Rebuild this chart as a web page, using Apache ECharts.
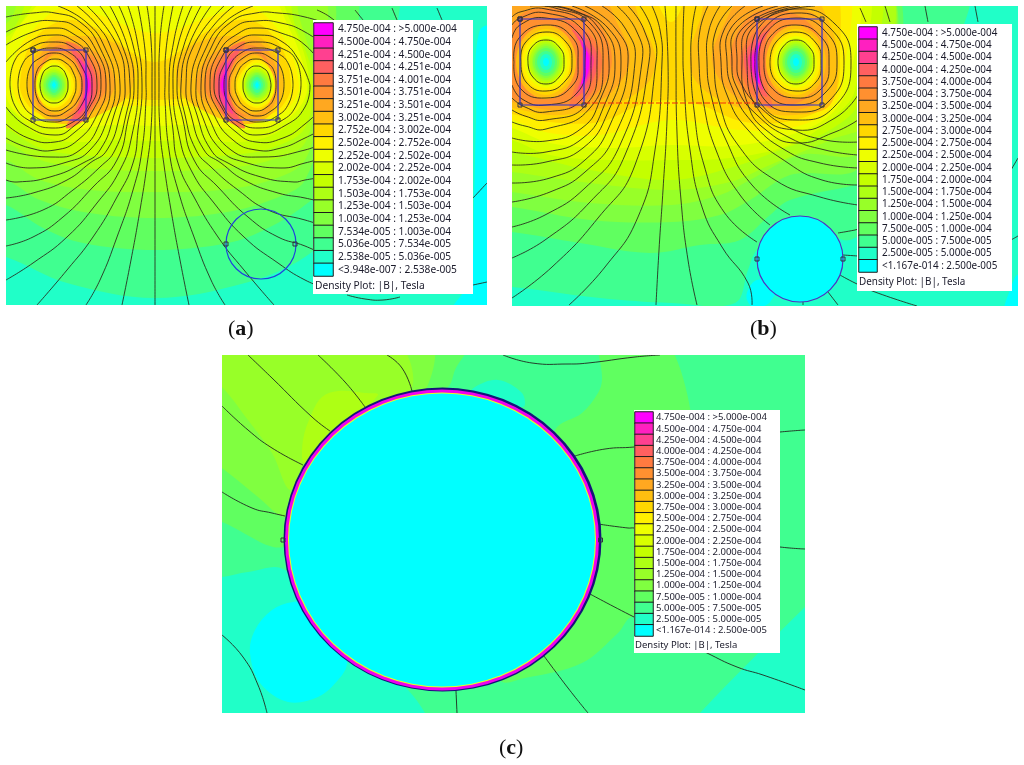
<!DOCTYPE html>
<html>
<head>
<meta charset="utf-8">
<title>Density plots</title>
<script src="https://cdn.jsdelivr.net/npm/echarts@6/dist/echarts.min.js"></script>
<style>
html, body { margin: 0; padding: 0; background: #fff; }
#chart { width: 1024px; height: 765px; }
</style>
</head>
<body>
<div id="chart"></div>
<script>
// colour per density level, lowest (cyan) first
var levelColors = ['#00ffff', '#20ffc8', '#40ff90', '#60ff60', '#80ff40', '#98ff28', '#aeff14', '#c4ff00', '#d8ff00', '#eeff00',
    '#fff000', '#ffd700', '#ffbf10', '#ffa820', '#ff9030', '#ff7a40', '#ff6060', '#ff4090', '#ff20c0', '#ff00ff'];

var legendLabelsA = ['4.750e-004 : >5.000e-004', '4.500e-004 : 4.750e-004', '4.251e-004 : 4.500e-004', '4.001e-004 : 4.251e-004',
    '3.751e-004 : 4.001e-004', '3.501e-004 : 3.751e-004', '3.251e-004 : 3.501e-004', '3.002e-004 : 3.251e-004',
    '2.752e-004 : 3.002e-004', '2.502e-004 : 2.752e-004', '2.252e-004 : 2.502e-004', '2.002e-004 : 2.252e-004',
    '1.753e-004 : 2.002e-004', '1.503e-004 : 1.753e-004', '1.253e-004 : 1.503e-004', '1.003e-004 : 1.253e-004',
    '7.534e-005 : 1.003e-004', '5.036e-005 : 7.534e-005', '2.538e-005 : 5.036e-005', '<3.948e-007 : 2.538e-005'];
var legendLabelsB = ['4.750e-004 : >5.000e-004', '4.500e-004 : 4.750e-004', '4.250e-004 : 4.500e-004', '4.000e-004 : 4.250e-004',
    '3.750e-004 : 4.000e-004', '3.500e-004 : 3.750e-004', '3.250e-004 : 3.500e-004', '3.000e-004 : 3.250e-004',
    '2.750e-004 : 3.000e-004', '2.500e-004 : 2.750e-004', '2.250e-004 : 2.500e-004', '2.000e-004 : 2.250e-004',
    '1.750e-004 : 2.000e-004', '1.500e-004 : 1.750e-004', '1.250e-004 : 1.500e-004', '1.000e-004 : 1.250e-004',
    '7.500e-005 : 1.000e-004', '5.000e-005 : 7.500e-005', '2.500e-005 : 5.000e-005', '<1.167e-014 : 2.500e-005'];
var legendLevels = [19, 18, 17, 16, 15, 14, 13, 12, 11, 10, 9, 8, 7, 6, 5, 4, 3, 2, 1, 0];

// density regions: [level, x,y, x,y, ...], painted in this order
var bandsA = [
    [1, -20,-20, 500,-20, 500,320, -20,320],
    [0, 480,30, 476,120, 474,200, 470,280, 450,315, 505,315, 505,30],
    [2, -20,254, 6,257, 67,283, 155,298, 245,283, 305,257, 340,220, 380,120, 400,6, 400,-20, -20,-20],
    [3, -20,203, 6,205, 43,228, 83,243, 155,250, 228,243, 268,228, 305,205, 335,175, 350,80, 345,-20, -20,-20],
    [4, -20,178, 6,180, 40,200, 90,213, 155,218, 221,213, 271,200, 305,180, 325,100, 320,-20, -20,-20],
    [5, -20,158, 6,160, 40,180, 90,190, 155,192, 221,190, 271,180, 305,160, 318,100, 312,-20, -20,-20],
    [6, -20,140, 6,143, 40,160, 85,168, 155,171, 226,168, 271,160, 305,143, 315,80, 300,20, 285,-20, 30,-20, 10,20, -20,40],
    [7, -20,118, 6,128, 40,148, 80,155, 155,158, 231,155, 271,148, 305,128, 312,75, 295,25, 278,-20, 45,-20, 12,30, -20,50],
    [8, -20,100, 8,108, 35,133, 70,142, 110,140, 155,141, 201,140, 241,142, 276,133, 303,108, 308,70, 290,20, 265,-20, 60,-20, 15,30, -20,60],
    [9, 4,85, 12,108, 35,125, 70,130, 110,125, 155,126, 201,125, 241,130, 276,125, 299,108, 307,85, 290,30, 255,-20, 75,-20, 20,25, 4,60],
    [10, 12,85, 20,105, 40,118, 70,120, 105,108, 155,106, 206,108, 241,120, 271,118, 291,105, 299,85, 285,40, 250,6, 215,15, 155,33, 100,15, 65,6, 28,35, 14,60],
    [11, 20,85, 28,105, 45,116, 70,115, 100,100, 155,100, 211,100, 241,115, 266,116, 283,105, 291,85, 280,45, 250,20, 210,30, 155,62, 100,30, 65,20, 32,42],
    [12, 27,85, 33,105, 48,120, 72,124, 105,112, 128,95, 135,70, 125,50, 100,38, 72,36, 50,38, 33,60],
    [12, 284,85, 278,105, 263,120, 239,124, 206,112, 183,95, 176,70, 186,50, 211,38, 239,36, 261,38, 278,60],
    [13, 32,85, 37,105, 50,117, 72,119, 100,107, 115,85, 103,58, 72,42, 52,42, 37,62],
    [13, 279,85, 274,105, 261,117, 239,119, 211,107, 196,85, 208,58, 239,42, 259,42, 274,62],
    [14, 36,85, 41,103, 52,113, 72,116, 96,104, 107,85, 97,60, 72,46, 54,47, 41,65],
    [14, 275,85, 270,103, 259,113, 239,116, 215,104, 204,85, 214,60, 239,46, 257,47, 270,65],
    [13, 38,85, 44,63, 58,52, 75,62, 83,85, 75,108, 58,117, 44,107],
    [12, 37,85, 43,65, 56,55, 72,64, 80,85, 72,106, 56,114, 43,105],
    [11, 37,85, 42,67, 55,58, 69,67, 77,85, 69,103, 55,111, 42,103],
    [10, 36,85, 41,69, 54,60, 67,69, 74,85, 67,101, 54,108, 41,101],
    [9, 37,85, 41,71, 54,63, 66,71, 71,85, 66,99, 54,106, 42,99],
    [8, 38,85, 42,73, 54,66, 65,73, 69,85, 65,97, 54,103, 43,97],
    [7, 40,85, 44,74, 54,68, 64,74, 67,85, 64,96, 54,101, 44,96],
    [6, 41,85, 45,75, 54,70, 63,75, 66,85, 63,95, 54,100, 45,95],
    [5, 43,85, 46,76, 54,72, 62,76, 65,85, 62,94, 54,98, 46,94],
    [4, 44,85, 47,78, 54,73, 61,78, 64,85, 61,92, 54,97, 47,92],
    [3, 46,85, 48,79, 54,75, 60,79, 62,85, 60,91, 54,95, 48,91],
    [2, 48,85, 50,80, 54,77, 58,80, 60,85, 58,90, 54,93, 50,90],
    [1, 50,85, 51,82, 54,80, 57,82, 58,85, 57,88, 54,90, 51,88],
    [0, 52,85, 53,83, 54,82, 55,83, 56,85, 55,87, 54,88, 53,87],
    [13, 273,85, 267,63, 253,52, 236,62, 228,85, 236,108, 253,117, 267,107],
    [12, 274,85, 268,65, 255,55, 239,64, 231,85, 239,106, 255,114, 268,105],
    [11, 274,85, 269,67, 256,58, 242,67, 234,85, 242,103, 256,111, 269,103],
    [10, 275,85, 270,69, 257,60, 244,69, 237,85, 244,101, 257,108, 270,101],
    [9, 274,85, 270,71, 257,63, 245,71, 240,85, 245,99, 257,106, 269,99],
    [8, 273,85, 269,73, 257,66, 246,73, 242,85, 246,97, 257,103, 268,97],
    [7, 271,85, 267,74, 257,68, 247,74, 244,85, 247,96, 257,101, 267,96],
    [6, 270,85, 266,75, 257,70, 248,75, 245,85, 248,95, 257,100, 266,95],
    [5, 268,85, 265,76, 257,72, 249,76, 246,85, 249,94, 257,98, 265,94],
    [4, 267,85, 264,78, 257,73, 250,78, 247,85, 250,92, 257,97, 264,92],
    [3, 265,85, 263,79, 257,75, 251,79, 249,85, 251,91, 257,95, 263,91],
    [2, 263,85, 261,80, 257,77, 253,80, 251,85, 253,90, 257,93, 261,90],
    [1, 261,85, 260,82, 257,80, 254,82, 253,85, 254,88, 257,90, 260,88],
    [0, 259,85, 258,83, 257,82, 256,83, 255,85, 256,87, 257,88, 258,87],
    [15, 66,42, 86,52, 100,85, 86,118, 66,128, 78,105, 81,85, 78,65],
    [16, 72,50, 90,64, 96,85, 90,108, 72,122, 81,100, 83,85, 81,70],
    [17, 78,58, 91,72, 93,85, 91,100, 78,114, 84,97, 85,85, 84,73],
    [18, 82,64, 91,85, 82,106, 86,85],
    [19, 84,70, 89.5,85, 84,100, 86.5,85],
    [15, 245,42, 225,52, 211,85, 225,118, 245,128, 233,105, 230,85, 233,65],
    [16, 239,50, 221,64, 215,85, 221,108, 239,122, 230,100, 228,85, 230,70],
    [17, 233,58, 220,72, 218,85, 220,100, 233,114, 227,97, 226,85, 227,73],
    [18, 229,64, 220,85, 229,106, 225,85],
    [19, 227,70, 221.5,85, 227,100, 224.5,85]
];
var bandsB = [
    [1, 490,-20, 1030,-20, 1030,320, 490,320],
    [0, 757,280, 748,290, 747,300, 755,308, 768,304, 775,295, 790,280],
    [0, 1010,290, 1018,275, 1028,310, 1005,312],
    [2, 490,287, 512,287, 600,298, 671,303, 735,303, 748,270, 757,250, 800,216, 843,240, 860,235, 875,220, 930,100, 960,-20, 490,-20],
    [3, 490,232, 512,232, 580,243, 650,253, 700,245, 740,240, 770,215, 790,200, 855,185, 870,180, 885,-20, 490,-20],
    [4, 490,207, 512,207, 590,220, 671,222, 720,215, 750,200, 790,175, 860,165, 880,-20, 490,-20],
    [5, 490,190, 512,192, 590,203, 671,205, 720,195, 750,180, 800,155, 860,150, 880,-20, 490,-20],
    [6, 490,170, 512,172, 590,183, 671,190, 730,182, 770,165, 830,140, 870,120, 880,-20, 490,-20],
    [7, 490,150, 512,152, 590,170, 671,180, 730,168, 780,150, 830,130, 860,100, 870,-20, 490,-20],
    [8, 490,138, 512,140, 550,155, 610,160, 671,160, 730,158, 790,145, 830,120, 855,90, 858,-20, 490,-20],
    [9, 490,125, 512,128, 550,143, 610,148, 671,145, 730,146, 790,135, 830,115, 850,80, 848,-20, 490,-20],
    [10, 490,118, 512,120, 550,133, 600,135, 671,120, 740,130, 790,128, 830,110, 844,75, 838,-20, 490,-20],
    [11, 490,112, 512,114, 550,122, 600,122, 640,105, 671,100, 700,105, 745,122, 795,120, 832,100, 840,60, 828,-20, 700,-20, 671,22, 640,-20, 490,-20],
    [12, 490,105, 512,108, 550,115, 585,112, 625,100, 650,80, 655,55, 640,20, 620,-20, 490,-20],
    [12, 690,55, 695,80, 720,100, 757,112, 795,115, 830,105, 838,60, 828,20, 800,-20, 715,-20, 700,20],
    [13, 490,100, 512,102, 550,110, 585,106, 612,92, 630,60, 618,25, 595,-10, 490,-10],
    [13, 712,60, 730,92, 757,106, 795,110, 822,98, 830,60, 820,20, 795,6, 745,-5, 724,25],
    [14, 505,90, 525,104, 555,105, 585,101, 603,85, 612,60, 603,30, 585,12, 550,8, 525,12, 510,30, 503,60],
    [14, 730,60, 739,85, 757,101, 790,105, 815,90, 824,60, 815,30, 790,12, 757,12, 739,30],
    [12, 516,62, 525,36, 546,25, 567,36, 576,62, 567,88, 546,99, 525,88],
    [11, 519,62, 527,39, 546,29, 565,39, 573,62, 565,85, 546,95, 527,85],
    [10, 522,62, 529,41, 546,33, 563,41, 570,62, 563,83, 546,91, 529,83],
    [9, 525,62, 531,44, 546,36, 561,44, 567,62, 561,80, 546,88, 531,80],
    [8, 527,62, 533,46, 546,38, 559,46, 565,62, 559,78, 546,86, 533,78],
    [7, 529,62, 534,47, 546,40, 558,47, 563,62, 558,77, 546,84, 534,77],
    [6, 530,62, 535,48, 546,42, 557,48, 562,62, 557,76, 546,82, 535,76],
    [5, 532,62, 536,50, 546,44, 556,50, 560,62, 556,74, 546,80, 536,74],
    [4, 533,62, 537,51, 546,46, 555,51, 559,62, 555,73, 546,78, 537,73],
    [3, 535,62, 538,52, 546,48, 554,52, 557,62, 554,72, 546,76, 538,72],
    [2, 537,62, 540,54, 546,51, 552,54, 555,62, 552,70, 546,73, 540,70],
    [1, 540,62, 542,56, 546,54, 550,56, 552,62, 550,68, 546,70, 542,68],
    [0, 543,62, 544,59, 546,58, 548,59, 549,62, 548,65, 546,66, 544,65],
    [12, 766,62, 775,36, 796,25, 817,36, 826,62, 817,88, 796,99, 775,88],
    [11, 769,62, 777,39, 796,29, 815,39, 823,62, 815,85, 796,95, 777,85],
    [10, 772,62, 779,41, 796,33, 813,41, 820,62, 813,83, 796,91, 779,83],
    [9, 775,62, 781,44, 796,36, 811,44, 817,62, 811,80, 796,88, 781,80],
    [8, 777,62, 783,46, 796,38, 809,46, 815,62, 809,78, 796,86, 783,78],
    [7, 779,62, 784,47, 796,40, 808,47, 813,62, 808,77, 796,84, 784,77],
    [6, 780,62, 785,48, 796,42, 807,48, 812,62, 807,76, 796,82, 785,76],
    [5, 782,62, 786,50, 796,44, 806,50, 810,62, 806,74, 796,80, 786,74],
    [4, 783,62, 787,51, 796,46, 805,51, 809,62, 805,73, 796,78, 787,73],
    [3, 785,62, 788,52, 796,48, 804,52, 807,62, 804,72, 796,76, 788,72],
    [2, 787,62, 790,54, 796,51, 802,54, 805,62, 802,70, 796,73, 790,70],
    [1, 790,62, 792,56, 796,54, 800,56, 802,62, 800,68, 796,70, 792,68],
    [0, 793,62, 794,59, 796,58, 798,59, 799,62, 798,65, 796,66, 794,65],
    [15, 565,20, 590,35, 602,60, 592,92, 570,108, 575,85, 577,60, 575,35],
    [16, 572,30, 590,42, 598,60, 590,85, 575,97, 580,80, 582,60, 580,42],
    [17, 577,36, 588,48, 594,60, 588,80, 579,90, 583,75, 585,60, 583,47],
    [18, 580,40, 587,50, 591,60, 587,78, 581,85, 584,72, 585,60, 584,50],
    [19, 581,44, 587,52, 589,62, 587,75, 582,84, 584,72, 585,60, 584,50],
    [15, 777,20, 752,35, 740,60, 750,92, 772,108, 767,85, 765,60, 767,35],
    [16, 770,30, 752,42, 744,60, 752,85, 767,97, 762,80, 760,60, 762,42],
    [17, 765,36, 754,48, 748,60, 754,80, 763,90, 759,75, 757,60, 759,47],
    [18, 762,40, 755,50, 751,60, 755,78, 761,85, 758,72, 757,60, 758,50],
    [19, 761,44, 755,52, 753,62, 755,75, 760,84, 758,72, 757,60, 758,50]
];
var bandsC = [
    [2, 200,340, 820,340, 820,730, 200,730],
    [3, 602,340, 667,340, 700,500, 690,640, 633,617, 618,633, 582,663, 525,678, 500,680, 480,600, 555,430, 582,413, 598,393, 602,380],
    [3, 200,340, 468,340, 455,370, 448,387, 430,390, 300,500, 283,547, 222,522, 200,515],
    [1, 200,577, 222,577, 248,572, 285,570, 408,690, 425,713, 432,730, 200,730],
    [1, 815,600, 805,607, 700,713, 690,730, 820,730],
    [0, 293,602, 272,610, 255,630, 250,653, 260,683, 288,702, 318,697, 338,680, 347,663, 340,600],
    [1, 475,387, 498,380, 522,393, 523,407, 470,395],
    [4, 200,340, 428,340, 427,387, 400,400, 300,500, 285,517, 258,497, 222,468, 200,455],
    [5, 200,340, 392,340, 412,387, 365,407, 328,430, 303,465, 290,490, 272,453, 248,420, 222,387, 200,370],
    [6, 305,463, 303,440, 312,413, 322,397, 338,391, 365,393, 378,395, 340,430]
];

// flux lines: x,y, x,y, ...
var fluxA = [
    [155,305, 155,150, 155,85, 155,6],
    [122,305, 131,260, 140,210, 147,165, 151,130, 152,85, 151,40, 147,6],
    [86,305, 100,280, 117,237, 133,190, 142,150, 146,100, 146,85, 145,50, 138,6],
    [37,305, 67,270, 93,237, 117,197, 133,163, 138,130, 142,85, 137,40, 128,6],
    [6,280, 33,263, 67,237, 97,203, 120,170, 132,135, 138,85, 133,45, 119,6],
    [6,246, 33,237, 63,217, 93,187, 117,160, 128,120, 134,85, 127,45, 110,6],
    [6,220, 43,210, 73,190, 100,167, 115,150, 126,115, 130,85, 122,45, 100,6],
    [6,198, 33,193, 67,180, 90,163, 107,150, 120,115, 125,85, 117,45, 87,6],
    [6,180, 17,182, 50,177, 83,163, 100,150, 114,115, 120,85, 111,48, 97,25, 77,6],
    [6,163, 30,168, 67,162, 90,150, 108,118, 115,85, 105,48, 86,22, 58,6],
    [6,150, 50,157, 80,150, 102,118, 110,85, 100,48, 80,22, 55,13, 33,13, 6,17],
    [6,138, 30,148, 55,150, 78,140, 97,115, 106,85, 96,50, 76,27, 55,21, 30,23, 6,32],
    [6,124, 28,138, 55,142, 75,132, 92,112, 101,85, 92,52, 72,33, 54,28, 30,33, 6,45],
    [6,107, 25,125, 55,135, 74,126, 89,108, 97,85, 88,55, 72,40, 54,35, 30,41, 6,62],
    [10,85, 15,60, 30,48, 52,42, 74,48, 87,65, 92,85, 87,108, 73,122, 52,128, 30,121, 15,106, 10,85],
    [18,85, 22,65, 34,53, 52,48, 70,53, 82,67, 87,85, 82,104, 69,117, 52,122, 34,116, 22,103, 18,85],
    [27,85, 30,68, 40,58, 54,53, 68,58, 78,70, 82,85, 78,100, 67,111, 54,116, 40,111, 30,100, 27,85],
    [35,85, 37,71, 44,63, 55,59, 66,63, 73,72, 76,85, 73,98, 66,107, 55,111, 44,107, 37,98, 35,85],
    [40,85, 43,73, 48,68, 54,66, 61,68, 66,75, 68,85, 66,95, 61,101, 54,103, 47,101, 42,95, 40,85],
    [189,305, 180,260, 171,210, 164,165, 160,130, 159,85, 160,40, 164,6],
    [225,305, 211,280, 194,237, 178,190, 169,150, 165,100, 165,85, 166,50, 173,6],
    [274,305, 244,270, 218,237, 194,197, 178,163, 173,130, 169,85, 174,40, 183,6],
    [330,290, 305,280, 278,263, 244,237, 214,203, 191,170, 179,135, 173,85, 178,45, 192,6],
    [330,258, 305,246, 278,237, 248,217, 218,187, 194,160, 183,120, 177,85, 184,45, 201,6],
    [330,228, 305,220, 268,210, 238,190, 211,167, 196,150, 185,115, 181,85, 189,45, 211,6],
    [330,204, 305,198, 278,193, 244,180, 221,163, 204,150, 191,115, 186,85, 194,45, 224,6],
    [330,176, 305,180, 294,182, 261,177, 228,163, 211,150, 197,115, 191,85, 200,48, 214,25, 234,6],
    [330,156, 305,163, 281,168, 244,162, 221,150, 203,118, 196,85, 206,48, 225,22, 253,6],
    [330,140, 305,150, 261,157, 231,150, 209,118, 201,85, 211,48, 231,22, 256,13, 278,13, 305,17, 330,25],
    [330,125, 305,138, 281,148, 256,150, 233,140, 214,115, 205,85, 215,50, 235,27, 256,21, 281,23, 305,32, 330,50],
    [325,105, 305,124, 283,138, 256,142, 236,132, 219,112, 210,85, 219,52, 239,33, 257,28, 281,33, 305,45, 325,70],
    [310,85, 305,107, 286,125, 256,135, 237,126, 222,108, 214,85, 223,55, 239,40, 257,35, 281,41, 300,62, 310,85],
    [301,85, 296,60, 281,48, 259,42, 237,48, 224,65, 219,85, 224,108, 238,122, 259,128, 281,121, 296,106, 301,85],
    [293,85, 289,65, 277,53, 259,48, 241,53, 229,67, 224,85, 229,104, 242,117, 259,122, 277,116, 289,103, 293,85],
    [284,85, 281,68, 271,58, 257,53, 243,58, 233,70, 229,85, 233,100, 244,111, 257,116, 271,111, 281,100, 284,85],
    [276,85, 274,71, 267,63, 256,59, 245,63, 238,72, 235,85, 238,98, 245,107, 256,111, 267,107, 274,98, 276,85],
    [271,85, 268,73, 263,68, 257,66, 250,68, 245,75, 243,85, 245,95, 250,101, 257,103, 264,101, 269,95, 271,85],
    [317,10, 330,17, 345,30],
    [355,10, 363,20],
    [392,8, 397,20],
    [437,8, 442,20],
    [473,198, 487,183],
    [473,285, 487,282],
    [347,295, 365,299, 383,300, 400,297]
];
var fluxB = [
    [528,62, 531,48, 546,40, 560,48, 564,62, 560,76, 546,84, 532,76, 528,62],
    [521,62, 525,43, 546,32, 566,42, 572,62, 566,80, 546,91, 526,82, 521,62],
    [514,62, 519,38, 546,25, 572,37, 578,62, 572,86, 546,98, 520,88, 514,62],
    [512,85, 522,99, 546,105, 577,93, 585,62, 578,33, 546,18, 520,25, 512,38],
    [512,98, 525,107, 546,112, 582,99, 591,62, 583,30, 546,13, 520,18, 512,25],
    [512,110, 525,116, 546,120, 586,105, 597,62, 587,26, 546,9, 520,12, 512,17],
    [512,122, 525,126, 546,129, 590,108, 603,62, 591,24, 555,8, 530,6],
    [512,138, 546,141, 582,128, 600,100, 609,62, 597,26, 570,10, 545,6],
    [512,152, 546,152, 583,138, 604,106, 615,62, 603,28, 578,12, 555,6],
    [512,165, 546,162, 583,148, 608,112, 621,62, 608,28, 572,6],
    [512,183, 550,178, 585,160, 610,125, 628,62, 615,28, 585,6],
    [512,202, 550,192, 585,172, 615,135, 635,62, 625,28, 602,6],
    [512,227, 545,215, 585,188, 620,145, 642,62, 636,30, 617,6],
    [512,258, 545,240, 590,202, 625,155, 649,62, 644,30, 628,6],
    [512,298, 552,267, 598,218, 635,165, 656,62, 652,30, 640,6],
    [569,305, 605,267, 638,217, 655,150, 662,62, 660,30, 652,6],
    [656,305, 659,250, 663,190, 667,120, 668,62, 665,6],
    [697,305, 688,260, 681,200, 677,133, 676,62, 676,6],
    [752,305, 748,283, 722,247, 702,207, 690,150, 684,83, 683,45, 684,6],
    [757,242, 724,212, 704,165, 694,110, 691,62, 692,30, 696,6],
    [770,225, 740,195, 716,150, 703,100, 699,62, 700,30, 708,6],
    [790,215, 752,185, 726,140, 711,95, 707,62, 709,30, 720,6],
    [858,205, 820,197, 775,180, 738,145, 720,105, 714,62, 716,30, 732,6],
    [858,185, 822,180, 788,163, 748,130, 727,95, 721,62, 724,30, 745,6],
    [858,168, 820,163, 785,150, 752,122, 733,90, 727,62, 731,28, 763,6],
    [858,155, 825,150, 790,138, 757,115, 737,88, 732,62, 737,28, 778,6],
    [858,142, 825,140, 790,128, 761,108, 742,85, 737,62, 743,28, 790,6],
    [800,6, 750,26, 742,62, 748,105, 766,130, 796,143, 835,132, 858,120],
    [815,6, 757,24, 747,62, 760,112, 796,130, 835,118, 858,95],
    [751,62, 760,26, 796,9, 835,24, 851,62, 835,106, 796,120, 762,105, 751,62],
    [755,62, 763,30, 796,13, 830,28, 844,62, 830,100, 796,112, 764,99, 755,62],
    [759,62, 766,33, 796,18, 826,32, 837,62, 826,92, 796,105, 767,93, 759,62],
    [764,62, 770,37, 796,25, 822,38, 829,62, 822,88, 796,98, 770,86, 764,62],
    [770,62, 776,42, 796,32, 816,43, 821,62, 816,82, 796,91, 775,80, 770,62],
    [778,62, 782,48, 796,40, 810,48, 814,62, 810,76, 796,84, 782,76, 778,62],
    [838,233, 855,230, 858,229],
    [843,255, 858,256],
    [840,275, 855,283, 875,292, 917,306],
    [828,292, 838,305],
    [803,302, 803,305],
    [1011,170, 1018,158],
    [1011,240, 1018,236],
    [860,8, 866,22],
    [885,6, 890,22],
    [925,6, 928,22],
    [975,6, 978,22]
];
var fluxC = [
    [248,355, 272,378, 312,417, 330,431],
    [318,355, 345,382, 365,407],
    [387,355, 402,368, 412,391],
    [222,406, 248,430, 272,448, 303,465],
    [222,492, 252,508, 272,513, 285,516],
    [222,635, 243,657, 258,685, 267,713],
    [456,691, 457,713],
    [544,656, 568,688, 588,713],
    [590,594, 634,617, 707,653, 737,667, 763,675, 805,690],
    [598,524, 628,528, 634,528, 780,547, 805,549],
    [575,456, 605,449, 634,447, 780,432, 805,430],
    [503,355, 532,363, 568,364, 588,363, 635,357, 660,355]
];

// conductor outlines, circle centres and end nodes
var coilsA = [[33,50, 86,50, 86,120, 33,120, 33,50], [226,50, 278,50, 278,120, 226,120, 226,50]];
var coilsB = [[520,19, 584,19, 584,105, 520,105, 520,19], [757,19, 822,19, 822,105, 757,105, 757,19]];
var gapLineB = [584,103, 757,103];
var circleCentreA = [261, 244];
var circleCentreB = [800, 259];
var circleCentreC = [442, 540];
var nodesA = [[226,244], [295,244]];
var nodesB = [[757,259], [843,259]];
var nodesC = [[283,540], [600.5,540]];

var panels = [
    { left: 6, top: 6, right: 487, bottom: 305 },
    { left: 512, top: 6, right: 1018, bottom: 306 },
    { left: 222, top: 355, right: 805, bottom: 713 }
];
var legends = [
    { left: 314, top: 23, width: 19, height: 253, labels: legendLabelsA, font: 10.2, margin: 5, box: [313, 20, 160, 274], caption: [315, 286] },
    { left: 859, top: 27, width: 18, height: 245, labels: legendLabelsB, font: 9.9, margin: 5, box: [857, 24, 155, 267], caption: [859, 282] },
    { left: 635, top: 412, width: 18, height: 224, labels: legendLabelsB, font: 9.5, margin: 3, box: [634, 410, 146, 243], caption: [635, 645] }
];

function pairs(flat) {
    var out = [];
    for (var i = 0; i + 1 < flat.length; i += 2) out.push([flat[i], flat[i + 1]]);
    return out;
}

var grids = [], xAxes = [], yAxes = [], series = [], graphics = [];

panels.forEach(function (p) {
    grids.push({ left: p.left, top: p.top, width: p.right - p.left, height: p.bottom - p.top });
    xAxes.push({ type: 'value', gridIndex: grids.length - 1, min: p.left, max: p.right, show: false });
    yAxes.push({ type: 'value', gridIndex: grids.length - 1, min: p.top, max: p.bottom, inverse: true, show: false });
});

function addBands(list, idx) {
    series.push({
        type: 'custom',
        xAxisIndex: idx,
        yAxisIndex: idx,
        clip: true,
        silent: true,
        data: list.map(function (b, i) { return [i]; }),
        encode: { x: 0 },
        renderItem: function (params, api) {
            var band = list[params.dataIndex];
            var pts = pairs(band.slice(1)).map(function (pt) { return api.coord(pt); });
            return { type: 'polygon', shape: { points: pts, smooth: 0.35 }, style: { fill: levelColors[band[0]] } };
        }
    });
}

// the line series keeps its control points inside each segment's box, so these go through a polyline instead
function addLines(list, idx, color, width, opacity) {
    series.push({
        type: 'custom',
        xAxisIndex: idx,
        yAxisIndex: idx,
        clip: true,
        silent: true,
        data: list.map(function (b, i) { return [i]; }),
        encode: { x: 0 },
        renderItem: function (params, api) {
            var pts = pairs(list[params.dataIndex]).map(function (pt) { return api.coord(pt); });
            return {
                type: 'polyline',
                shape: { points: pts, smooth: 0.5 },
                style: { fill: 'none', stroke: color, lineWidth: width, opacity: opacity }
            };
        }
    });
}

function addCoils(list, idx) {
    list.forEach(function (flat) {
        series.push({
            type: 'line',
            xAxisIndex: idx,
            yAxisIndex: idx,
            data: pairs(flat),
            symbol: 'rect',
            symbolSize: 4,
            showAllSymbol: true,
            silent: true,
            itemStyle: { color: 'rgba(0,0,0,0)', borderColor: '#303040', borderWidth: 1 },
            lineStyle: { color: '#2a2ad8', width: 1.2 }
        });
    });
}

function addDisc(centre, idx, size, fill, border, borderWidth) {
    series.push({
        type: 'scatter',
        xAxisIndex: idx,
        yAxisIndex: idx,
        data: [centre],
        symbol: 'circle',
        symbolSize: size,
        silent: true,
        z: 3,
        itemStyle: { color: fill, borderColor: border, borderWidth: borderWidth, opacity: 1 }
    });
}

function addNodes(list, idx) {
    series.push({
        type: 'scatter',
        xAxisIndex: idx,
        yAxisIndex: idx,
        data: list,
        symbol: 'rect',
        symbolSize: 4,
        silent: true,
        z: 4,
        itemStyle: { color: 'rgba(0,0,0,0)', borderColor: '#303040', borderWidth: 1, opacity: 1 }
    });
}

addBands(bandsA, 0);
addLines(fluxA, 0, '#26261a', 1, 0.85);
addCoils(coilsA, 0);
addDisc(circleCentreA, 0, 70, 'rgba(0,0,0,0)', '#2044dc', 1.2);
addNodes(nodesA, 0);

addBands(bandsB, 1);
addLines(fluxB, 1, '#26261a', 1, 0.85);
addCoils(coilsB, 1);
series.push({
    type: 'line', xAxisIndex: 1, yAxisIndex: 1, data: pairs(gapLineB), showSymbol: false, silent: true,
    lineStyle: { color: '#f02a10', width: 1, type: [6, 2] }
});
addDisc(circleCentreB, 1, 86, '#00ffff', '#5030c0', 1.2);
addNodes(nodesB, 1);

addBands(bandsC, 2);
addLines(fluxC, 2, '#202a20', 1, 0.9);
addDisc([442.5, 539.5], 2, [318, 304], '#141478', '#141478', 0);
addDisc(circleCentreC, 2, [314, 301], '#f000f0', '#f000f0', 0);
addDisc(circleCentreC, 2, [308, 295], '#e8ff20', '#e8ff20', 0);
addDisc(circleCentreC, 2, [306, 293], '#00ffff', '#00ffff', 0);
addNodes(nodesC, 2);

// legends: white box behind, swatches as a one column heatmap, labels from the category axis
legends.forEach(function (l) {
    var g = grids.length;
    grids.push({ left: l.left, top: l.top, width: l.width, height: l.height });
    xAxes.push({ type: 'category', gridIndex: g, data: ['level'], show: false });
    yAxes.push({
        type: 'category', gridIndex: g, data: l.labels, inverse: true, position: 'right', z: 7,
        axisLine: { show: false }, axisTick: { show: false }, splitLine: { show: false },
        axisLabel: { interval: 0, margin: l.margin, fontFamily: '"Noto Sans", sans-serif', fontSize: l.font, color: '#1a1a2a' }
    });
    series.push({
        type: 'heatmap',
        xAxisIndex: g,
        yAxisIndex: g,
        z: 6,
        silent: true,
        data: legendLevels.map(function (v, i) {
            return { value: [0, i, v], itemStyle: { color: levelColors[v] } };
        }),
        itemStyle: { borderColor: '#1c1c1c', borderWidth: 1 }
    });
    graphics.push({
        type: 'rect', z: 5, silent: true,
        shape: { x: l.box[0], y: l.box[1], width: l.box[2], height: l.box[3] },
        style: { fill: '#fff' }
    });
    graphics.push({
        type: 'text', z: 7, silent: true, x: l.caption[0], y: l.caption[1],
        style: { text: 'Density Plot: |B|, Tesla', fontFamily: '"Noto Sans", sans-serif', fontSize: l.font, fill: '#1a1a2a', verticalAlign: 'middle' }
    });
});

function caption(letter, x, y) {
    return {
        text: '({b|' + letter + '})',
        left: x,
        top: y,
        padding: 0,
        textStyle: {
            fontFamily: '"Liberation Serif", serif', fontSize: 22, fontWeight: 'normal', color: '#111',
            rich: { b: { fontFamily: '"Liberation Serif", serif', fontSize: 22, fontWeight: 'bold', color: '#111' } }
        }
    };
}

var chart = echarts.init(document.getElementById('chart'));
chart.setOption({
    animation: false,
    backgroundColor: '#fff',
    title: [caption('a', 228, 318), caption('b', 750, 318), caption('c', 499, 737)],
    grid: grids,
    xAxis: xAxes,
    yAxis: yAxes,
    graphic: graphics,
    series: series
});
window.addEventListener('resize', function () {
    chart.resize();
});
</script>
</body>
</html>
